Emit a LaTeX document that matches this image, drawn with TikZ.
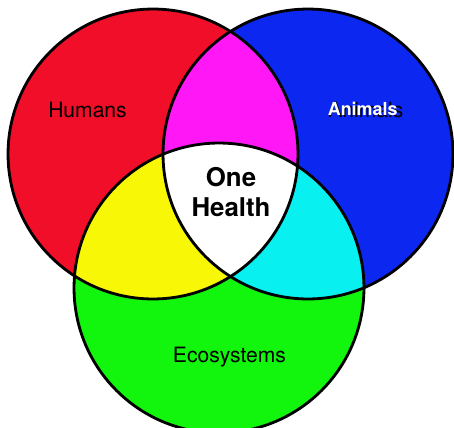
\documentclass[tikz,border=0pt]{standalone}
\usepackage{fontspec}
\setmainfont{TeX Gyre Heros}
\usepackage{tikz}
\usetikzlibrary{positioning}
\definecolor{VennRed}{RGB}{240,14,40}
\definecolor{VennBlue}{RGB}{12,39,240}
\definecolor{VennGreen}{RGB}{18,245,12}
\definecolor{VennMagenta}{RGB}{255,24,245}
\definecolor{VennYellow}{RGB}{248,248,6}
\definecolor{VennCyan}{RGB}{8,240,240}

\begin{document}
\begin{tikzpicture}[x=0.02cm, y=-0.02cm,
		ring/.style={draw=black, line width=1.6pt},
		setname/.style={font=\fontsize{12}{14}\selectfont, inner sep=0pt}]
		\useasboundingbox (0,0) rectangle (454,427);
		\def\rad{2.9cm}
		\coordinate (hum) at (153,154);
		\coordinate (ani) at (308,154);
		\coordinate (eco) at (219,288);
		% the three sets
		\fill[VennRed] (hum) circle (\rad);
		\fill[VennBlue] (ani) circle (\rad);
		\fill[VennGreen] (eco) circle (\rad);
		% pairwise overlaps
		\begin{scope}
			\clip (hum) circle (\rad);
			\fill[VennMagenta] (ani) circle (\rad);
			\fill[VennYellow] (eco) circle (\rad);
		\end{scope}
		\begin{scope}
			\clip (ani) circle (\rad);
			\fill[VennCyan] (eco) circle (\rad);
		\end{scope}
		\begin{scope}
			\clip (hum) circle (\rad);
			\clip (ani) circle (\rad);
			\fill[white] (eco) circle (\rad);
		\end{scope}
		% outlines
		\draw[ring] (hum) circle (\rad);
		\draw[ring] (ani) circle (\rad);
		\draw[ring] (eco) circle (\rad);
		% labels
		\node[setname] (humans) at (87.5,110) {Humans};
		\node[setname, anchor=west] (animalsback) at (328,110) {Animals};
		\node[setname, anchor=west, font=\fontsize{10.2}{12}\selectfont\bfseries, text=white] (animals) at (327.5,109) {Animals};
		\node[setname] (ecosystems) at (229.5,357) {Ecosystems};
		\node[align=center, font=\fontsize{14.7}{17}\selectfont\bfseries] (onehealth) at (231,192) {One\\Health};
	\end{tikzpicture}
\end{document}
